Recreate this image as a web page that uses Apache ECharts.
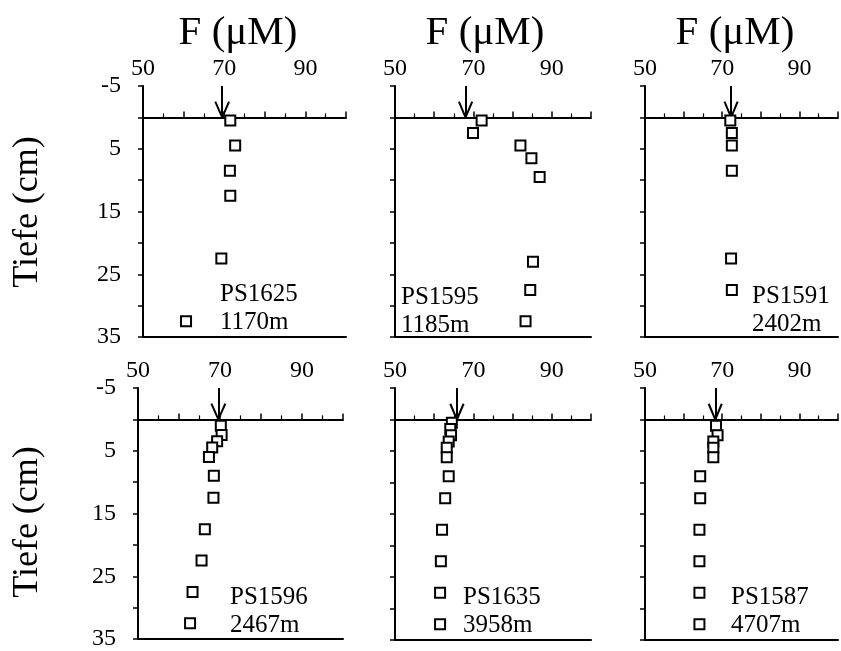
<!DOCTYPE html>
<html>
<head>
<meta charset="utf-8">
<script src="https://cdn.jsdelivr.net/npm/echarts@6/dist/echarts.min.js"></script>
<style>html,body{margin:0;padding:0;background:#fff}#c{width:841px;height:651px}</style>
</head>
<body>
<div id="c"></div>
<script>
// ---- data ----
const stations = ['PS1625', 'PS1595', 'PS1591', 'PS1596', 'PS1635', 'PS1587'];
const waterDepths = ['1170m', '1185m', '2402m', '2467m', '3958m', '4707m'];
const bottomWaterF = [69.5, 68.0, 72.3, 69.6, 65.8, 68.2];

const depth_PS1625 = [0.5, 4.5, 8.5, 12.5, 22.5, 32.5];
const f_PS1625 = [71.5, 72.7, 71.4, 71.5, 69.3, 60.6];

const depth_PS1595 = [0.5, 2.5, 4.5, 6.5, 9.5, 23, 27.5, 32.5];
const f_PS1595 = [72.1, 69.9, 82.0, 84.8, 86.9, 85.2, 84.5, 83.3];

const depth_PS1591 = [0.5, 2.5, 4.5, 8.5, 22.5, 27.5];
const f_PS1591 = [72.1, 72.5, 72.5, 72.5, 72.3, 72.5];

const depth_PS1596 = [1, 2.5, 3.5, 4.5, 6, 9, 12.5, 17.5, 22.5, 27.5, 32.5];
const f_PS1596 = [70.2, 70.4, 69.3, 68.1, 67.3, 68.5, 68.4, 66.3, 65.5, 63.3, 62.7];

const depth_PS1635 = [0.5, 1.5, 2.5, 3.5, 4.5, 6, 9, 12.5, 17.5, 22.5, 27.5, 32.5];
const f_PS1635 = [64.5, 64.1, 64.3, 63.7, 63.2, 63.2, 63.7, 62.8, 62.0, 61.7, 61.5, 61.5];

const depth_PS1587 = [1, 2.5, 3.5, 4.5, 6, 9, 12.5, 17.5, 22.5, 27.5, 32.5];
const f_PS1587 = [68.4, 68.8, 67.7, 67.7, 67.7, 64.3, 64.3, 64.1, 64.1, 64.1, 64.1];

const xTickLabels = [50, 70, 90];
const yTickLabels = [-5, 5, 15, 25, 35];
const titleText = 'F (\u03BCM)';
const yTitleText = 'Tiefe (cm)';

const depths = [depth_PS1625, depth_PS1595, depth_PS1591, depth_PS1596, depth_PS1635, depth_PS1587];
const values = [f_PS1625, f_PS1595, f_PS1591, f_PS1596, f_PS1635, f_PS1587];

// ---- layout ----
const grids = [
  {left: 143, top: 86, width: 203, height: 251},
  {left: 395, top: 86, width: 196, height: 251},
  {left: 645, top: 86, width: 200, height: 251},
  {left: 138, top: 388, width: 205, height: 252},
  {left: 395, top: 388, width: 196, height: 252},
  {left: 645, top: 388, width: 200, height: 252}
];
const labelPos = [
  [220, 294], [401, 297], [752, 296],
  [230, 597], [463, 597], [731, 597]
];
const FONT = '"Liberation Serif", "DejaVu Serif", serif';
const black = '#000';

const xAxes = [], yAxes = [], series = [], graphics = [];
grids.forEach((g, i) => {
  xAxes.push({
    gridIndex: i, type: 'value', position: 'top', min: 50, max: 100, interval: 10,
    axisLine: {show: true, lineStyle: {color: black, width: 2}},
    axisTick: {show: true, length: 6, lineStyle: {color: black, width: 1.5}},
    minorTick: {show: true, splitNumber: 2, length: 4, lineStyle: {color: black, width: 1.2}},
    splitLine: {show: false},
    axisLabel: {
      color: black, fontFamily: FONT, fontSize: 24, margin: 5,
      formatter: v => xTickLabels.indexOf(v) >= 0 ? String(v) : ''
    }
  });
  xAxes.push({
    gridIndex: i, type: 'value', position: 'bottom', min: 50, max: 100,
    axisLine: {show: true, onZero: false, lineStyle: {color: black, width: 2}},
    axisTick: {show: false}, axisLabel: {show: false}, splitLine: {show: false}
  });
  const col = i % 3;
  yAxes.push({
    gridIndex: i, type: 'value', inverse: true, min: -5, max: 35, interval: 5,
    axisLine: {show: true, onZero: false, lineStyle: {color: black, width: 2}},
    axisTick: {show: true, length: 5, lineStyle: {color: black, width: 1.5}},
    splitLine: {show: false},
    axisLabel: {
      show: col === 0, color: black, fontFamily: FONT, fontSize: 24, margin: 22,
      formatter: v => yTickLabels.indexOf(v) >= 0 ? String(v) : ''
    }
  });
  const bw = bottomWaterF[i];
  const ls = {color: black, width: 2, type: 'solid'};
  series.push({
    type: 'scatter', xAxisIndex: 2 * i, yAxisIndex: i,
    data: values[i].map((v, k) => [v, depths[i][k]]),
    symbol: 'rect', symbolSize: 10, clip: false,
    itemStyle: {color: '#fff', borderColor: black, borderWidth: 2, opacity: 1},
    z: 5,
    markLine: {
      silent: true, symbol: ['none', 'none'], animation: false,
      label: {show: false}, lineStyle: ls,
      data: [
        {yAxis: 0, lineStyle: ls},
        [{coord: [bw, -5]}, {coord: [bw, 0]}],
        [{coord: [bw - 1.7, -2.5]}, {coord: [bw, 0]}],
        [{coord: [bw + 1.7, -2.5]}, {coord: [bw, 0]}]
      ]
    }
  });
  graphics.push({
    type: 'text', left: labelPos[i][0], top: labelPos[i][1] - 14,
    style: {text: stations[i] + '\n' + waterDepths[i], font: '25px ' + FONT, fill: black, lineHeight: 28}
  });
});

// titles
[238, 485, 735].forEach(cx => {
  graphics.push({
    type: 'text', x: cx, y: 33,
    style: {text: titleText, font: '41px ' + FONT, fill: black, textAlign: 'center', textVerticalAlign: 'middle'}
  });
});
// y titles
[212, 522].forEach(cy => {
  graphics.push({
    type: 'text', x: 28, y: cy, rotation: Math.PI / 2,
    style: {text: yTitleText, font: '36px ' + FONT, fill: black, textAlign: 'center', textVerticalAlign: 'middle'}
  });
});

const chart = echarts.init(document.getElementById('c'), null, {renderer: 'canvas'});
chart.setOption({
  animation: false,
  backgroundColor: '#fff',
  grid: grids,
  xAxis: xAxes,
  yAxis: yAxes,
  series: series,
  graphic: graphics
});
</script>
</body>
</html>
